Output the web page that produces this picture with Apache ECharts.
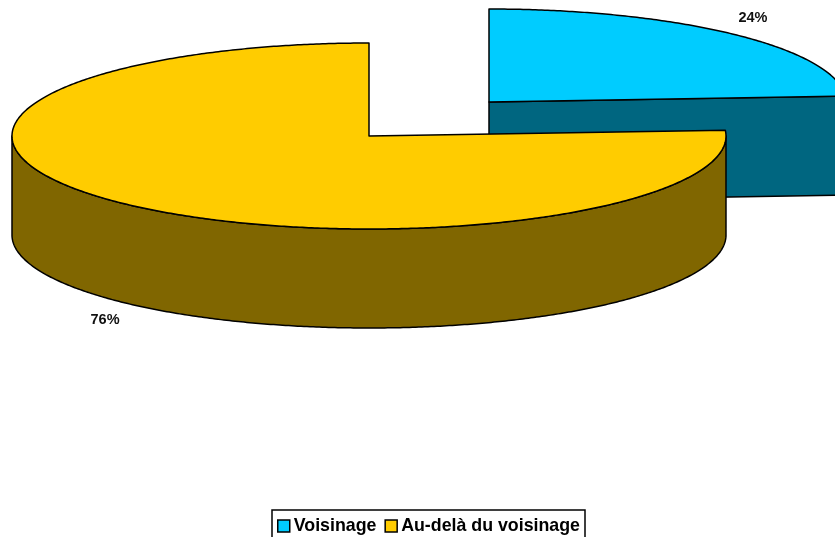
<!DOCTYPE html>
<html>
<head>
<meta charset="utf-8">
<style>html,body{margin:0;padding:0;background:#fff}#chart{width:835px;height:537px}</style>
<script src="https://cdn.jsdelivr.net/npm/echarts@6/dist/echarts.min.js"></script>
</head>
<body>
<div id="chart"></div>
<script>
// Slice names and shares, in percent
var categories = ['Voisinage', 'Au-delà du voisinage'];
var shares = [24, 76];
var topColors = ['#00CCFF', '#FFCC00'];
var sideColors = ['#006680', '#806600'];

// Disc projection: each slice has its own centre because the first one is pulled out
var centres = [[489, 102], [369, 136]];
var radiusX = 357;
var radiusY = 93;
var depth = 99;
var total = shares.reduce(function (a, b) { return a + b; }, 0);

// Angles run clockwise from twelve o'clock, in degrees
function rimPoint(c, deg, drop) {
  var r = deg * Math.PI / 180;
  return [c[0] + radiusX * Math.sin(r), c[1] - radiusY * Math.cos(r) + (drop || 0)];
}
function arc(c, from, to, drop) {
  var pts = [];
  var n = Math.max(2, Math.ceil(Math.abs(to - from) * 2));
  for (var i = 0; i <= n; i++) pts.push(rimPoint(c, from + (to - from) * i / n, drop));
  return pts;
}

function sliceRenderer(index) {
  return function (params, api) {
    var value = api.value(0);
    var before = shares.slice(0, index).reduce(function (a, b) { return a + b; }, 0);
    var a0 = before / total * 360;
    var a1 = a0 + value / total * 360;
    var mid = (a0 + a1) / 2;
    var c = centres[index];
    var line = { stroke: '#000', lineWidth: 1.5, lineJoin: 'round' };
    var children = [];

    // Cut face looking towards the viewer
    if (a1 < 90) {
      var e = rimPoint(c, a1);
      children.push({
        type: 'polygon',
        shape: { points: [c, e, [e[0], e[1] + depth], [c[0], c[1] + depth]] },
        style: Object.assign({ fill: sideColors[index] }, line)
      });
    }
    // Curved outer wall on the front half of the disc
    var w0 = Math.max(a0, 90), w1 = Math.min(a1, 270);
    if (w1 > w0) {
      children.push({
        type: 'polygon',
        shape: { points: arc(c, w0, w1).concat(arc(c, w1, w0, depth)) },
        style: Object.assign({ fill: sideColors[index] }, line)
      });
    }
    // Top surface
    children.push({
      type: 'polygon',
      shape: { points: [c].concat(arc(c, a0, a1)) },
      style: Object.assign({ fill: topColors[index] }, line)
    });
    // Percentage label placed beyond the rim at the slice's middle angle
    var rad = mid * Math.PI / 180;
    var cosM = Math.cos(rad);
    children.push({
      type: 'text',
      style: {
        text: value + '%',
        x: c[0] + radiusX * 1.08 * Math.sin(rad),
        y: c[1] - radiusY * 1.25 * cosM + (cosM < 0 ? depth : 0) + 0.5,
        align: 'center',
        verticalAlign: 'middle',
        fill: '#111',
        font: 'bold 14.5px "Liberation Sans", Arial, sans-serif'
      }
    });
    return { type: 'group', children: children };
  };
}

var chart = echarts.init(document.getElementById('chart'), null, { renderer: 'canvas' });
chart.setOption({
  animation: false,
  backgroundColor: '#fff',
  legend: {
    data: categories,
    left: 272,
    top: 510,
    padding: [7, 5, 7, 5],
    itemGap: 8,
    itemWidth: 12,
    itemHeight: 12,
    selectedMode: false,
    borderColor: '#000',
    borderWidth: 1.5,
    icon: 'rect',
    itemStyle: { borderColor: '#000', borderWidth: 1.5 },
    textStyle: {
      color: '#000',
      fontWeight: 'bold',
      fontSize: 17.8,
      fontFamily: '"Liberation Sans", Arial, sans-serif',
      padding: [0, 0, 0, -1]
    }
  },
  series: categories.map(function (name, i) {
    return {
      type: 'custom',
      name: name,
      coordinateSystem: 'none',
      silent: true,
      clip: false,
      itemStyle: { color: topColors[i] },
      data: [[shares[i]]],
      renderItem: sliceRenderer(i)
    };
  })
});
</script>
</body>
</html>
